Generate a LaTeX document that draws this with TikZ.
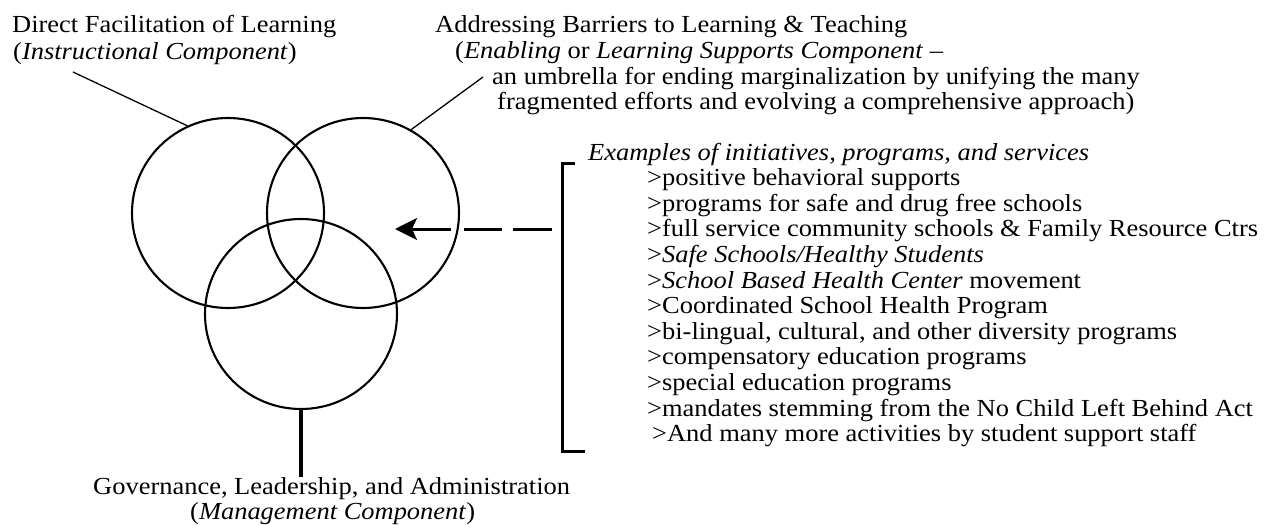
\documentclass[tikz,border=0pt]{standalone}
\usepackage{fontspec}
\setmainfont{Liberation Serif}[FakeStretch=1.08]
\usetikzlibrary{arrows.meta,shapes.geometric}
\begin{document}
\begin{tikzpicture}[x=1pt,y=-1pt,
  txt/.style={anchor=base west,inner sep=0pt,font=\fontsize{24.5}{25}\selectfont},
  ring/.style={draw,ellipse,line width=2.1pt,minimum width=192pt,minimum height=190pt,inner sep=0pt},
  leader/.style={line width=1.3pt},
  heavy/.style={line width=3.2pt}]
\useasboundingbox (0,0) rectangle (1267,525);
% circles
\node[ring] (L) at (228,213) {};
\node[ring] (R) at (363,213) {};
\node[ring] (B) at (301,314) {};
% top-left label
\node[txt] (t1) at (12,32) {Direct Facilitation of Learning};
\node[txt] (t2) at (13,59) {(\textit{Instructional Component})};
% top-right label
\node[txt] (u1) at (435,32) {Addressing Barriers to Learning \& Teaching};
\node[txt] (u2) at (455,58) {(\textit{Enabling} or \textit{Learning Supports Component} –};
\node[txt] (u3) at (492,84) {an umbrella for ending marginalization by unifying the many};
\node[txt] (u4) at (497,109) {fragmented efforts and evolving a comprehensive approach)};
% bottom label
\node[txt] (g1) at (93,494) {Governance, Leadership, and Administration};
\node[txt] (g2) at (190,519) {(\textit{Management Component})};
% list
\node[txt] (e0) at (588,160) {\textit{Examples of initiatives, programs, and services}};
\node[txt] (e1) at (647,185.6) {>positive behavioral supports};
\node[txt] (e2) at (647,211.2) {>programs for safe and drug free schools};
\node[txt] (e3) at (647,236.8) {>full service community schools \& Family Resource Ctrs};
\node[txt] (e4) at (647,262.4) {>\textit{Safe Schools/Healthy Students}};
\node[txt] (e5) at (647,288) {>\textit{School Based Health Center} movement};
\node[txt] (e6) at (647,313.6) {>Coordinated School Health Program};
\node[txt] (e7) at (647,339.2) {>bi-lingual, cultural, and other diversity programs};
\node[txt] (e8) at (647,364.8) {>compensatory education programs};
\node[txt] (e9) at (647,390.4) {>special education programs};
\node[txt] (e10) at (647,416) {>mandates stemming from the No Child Left Behind Act};
\node[txt] (e11) at (652,441.6) {>And many more activities by student support staff};
% leaders
\coordinate (l1) at (73,72);
\coordinate (r1) at (483,77);
\draw[leader] (l1) -- (L.115);
\draw[leader] (r1) -- (R.60);
% stem
\coordinate (gtop) at (301,477);
\draw[heavy] (B.south) -- (gtop);
% bracket
\coordinate (b1) at (575,163);
\coordinate (b2) at (562,163);
\coordinate (b3) at (562,451);
\coordinate (b4) at (585,451);
\draw[line width=3pt] (b1) -- (b2) -- (b3) -- (b4);
% arrow
\coordinate (aS) at (552,229);
\coordinate (aT) at (395,229);
\draw[line width=3pt,dash pattern=on 39pt off 11pt on 38pt off 13pt on 300pt,
  -{Stealth[length=22pt,width=22pt,inset=5pt]}] (aS) -- (aT);
\end{tikzpicture}
\end{document}
